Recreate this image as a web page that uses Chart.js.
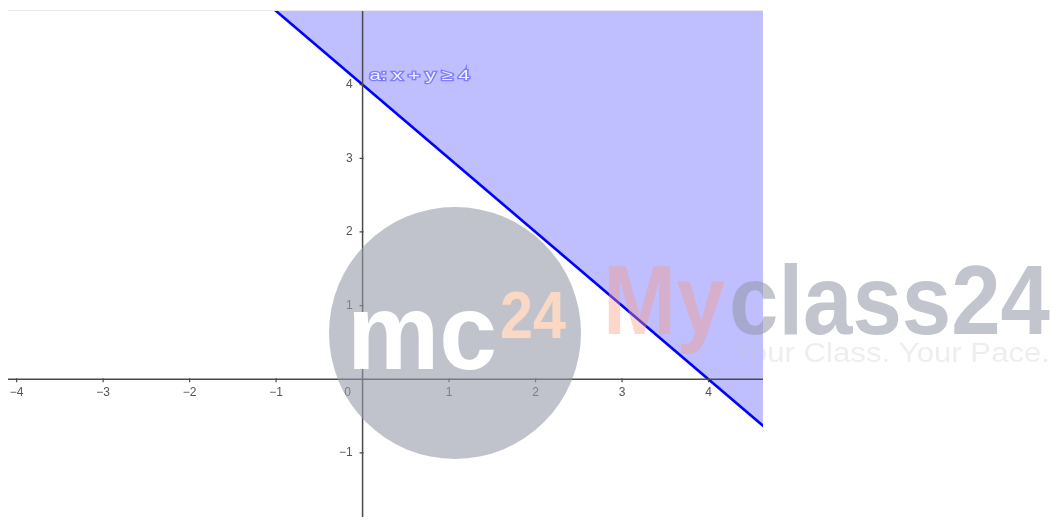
<!DOCTYPE html>
<html>
<head>
<meta charset="utf-8">
<script src="https://cdn.jsdelivr.net/npm/chart.js@4.4.1/dist/chart.umd.min.js"></script>
<style>
  html, body { margin: 0; padding: 0; background: #fff; }
  #wrap { width: 1052px; height: 517px; position: relative; }
</style>
</head>
<body>
<div id="wrap"><canvas id="chart"></canvas></div>
<script>
// boundary line x + y = 4, clipped to the view
const lineX = [-1.5, 5.0];
const lineY = [5.5, -1.0];
const xTicks = [-4, -3, -2, -1, 1, 2, 3, 4];
const yTicks = [-1, 1, 2, 3, 4];
const xRange = [-4.1, 4.63];
const yRange = [-1.87, 5.0];
const lineLabel = 'a: x + y \u2265 4';

const fmt = v => v < 0 ? '\u2212' + Math.abs(v) : String(v);
const FONT = '"Liberation Sans", Arial, sans-serif';

// axes through the origin, drawn from the chart's own scales
const axes = {
    id: 'axes',
    afterDatasetsDraw(chart) {
        const {ctx, chartArea: a, scales: {x, y}} = chart;
        const x0 = x.getPixelForValue(0), y0 = y.getPixelForValue(0);
        ctx.save();
        // faint frame line on top
        ctx.strokeStyle = 'rgba(200,200,210,0.4)';
        ctx.lineWidth = 1;
        ctx.beginPath();
        ctx.moveTo(a.left, a.top - 0.5);
        ctx.lineTo(a.right, a.top - 0.5);
        ctx.stroke();

        ctx.strokeStyle = '#4a4a4a';
        ctx.lineWidth = 1.5;
        ctx.beginPath();
        ctx.moveTo(a.left, y0); ctx.lineTo(a.right, y0);
        ctx.moveTo(x0, a.top); ctx.lineTo(x0, a.bottom);
        ctx.stroke();

        ctx.lineWidth = 1.2;
        ctx.beginPath();
        xTicks.forEach(v => {
            const px = x.getPixelForValue(v);
            ctx.moveTo(px, y0 - 1); ctx.lineTo(px, y0 + 3);
        });
        yTicks.forEach(v => {
            const py = y.getPixelForValue(v);
            ctx.moveTo(x0 - 3, py); ctx.lineTo(x0 + 1, py);
        });
        ctx.stroke();

        ctx.font = '12px ' + FONT;
        ctx.fillStyle = '#555';
        ctx.textBaseline = 'middle';
        ctx.textAlign = 'center';
        xTicks.forEach(v => ctx.fillText(fmt(v), x.getPixelForValue(v), y0 + 13));
        ctx.fillText('0', x0 - 15, y0 + 13);
        ctx.textAlign = 'right';
        yTicks.forEach(v => ctx.fillText(fmt(v), x0 - 10, y.getPixelForValue(v)));

        // line label
        ctx.font = '15px ' + FONT;
        ctx.textAlign = 'left';
        const lx = x0 + 7, ly = y.getPixelForValue(4) - 9;
        const w = ctx.measureText(lineLabel).width;
        ctx.translate(lx, ly);
        ctx.scale(100 / w, 1);
        ctx.lineWidth = 2.5;
        ctx.strokeStyle = 'rgba(100,100,255,0.7)';
        ctx.strokeText(lineLabel, 0, 0);
        ctx.fillStyle = '#f2f2ff';
        ctx.fillText(lineLabel, 0, 0);
        ctx.restore();
    },
    afterDraw(chart) {
        const ctx = chart.ctx;
        ctx.save();
        // watermark
        ctx.fillStyle = 'rgba(150,155,170,0.6)';
        ctx.beginPath();
        ctx.arc(455, 333, 126, 0, Math.PI * 2);
        ctx.fill();
        ctx.textBaseline = 'alphabetic';
        ctx.textAlign = 'left';
        const fitText = (txt, font, x0, base, w) => {
            ctx.font = font;
            const m = ctx.measureText(txt).width;
            ctx.save();
            ctx.translate(x0, base);
            ctx.scale(w / m, 1);
            ctx.fillText(txt, 0, 0);
            ctx.restore();
        };
        ctx.fillStyle = '#ffffff';
        fitText('mc', 'bold 108px ' + FONT, 347, 369, 150);
        ctx.fillStyle = '#fbd8c4';
        fitText('24', 'bold 66px ' + FONT, 500, 338, 66);
        ctx.fillStyle = 'rgba(250,150,120,0.38)';
        fitText('My', 'bold 98px ' + FONT, 603, 334, 122);
        ctx.fillStyle = 'rgba(145,150,165,0.55)';
        fitText('class24', 'bold 98px ' + FONT, 729, 334, 321);
        ctx.fillStyle = 'rgba(200,200,210,0.3)';
        fitText('Your Class. Your Pace.', '28px ' + FONT, 732, 362, 318);
        ctx.restore();
    }
};

new Chart(document.getElementById('chart'), {
    type: 'scatter',
    data: {
        datasets: [{
            data: lineX.map((v, i) => ({x: v, y: lineY[i]})),
            showLine: true,
            borderColor: '#0000ff',
            borderWidth: 2.6,
            backgroundColor: '#bfbfff',
            fill: 'end',
            pointRadius: 0,
            tension: 0
        }]
    },
    options: {
        responsive: true,
        maintainAspectRatio: false,
        animation: false,
        layout: {padding: {left: 8, right: 289, top: 11, bottom: 0}},
        plugins: {legend: {display: false}, tooltip: {enabled: false}},
        scales: {
            x: {type: 'linear', min: xRange[0], max: xRange[1], display: false},
            y: {type: 'linear', min: yRange[0], max: yRange[1], display: false}
        }
    },
    plugins: [axes]
});
</script>
</body>
</html>
